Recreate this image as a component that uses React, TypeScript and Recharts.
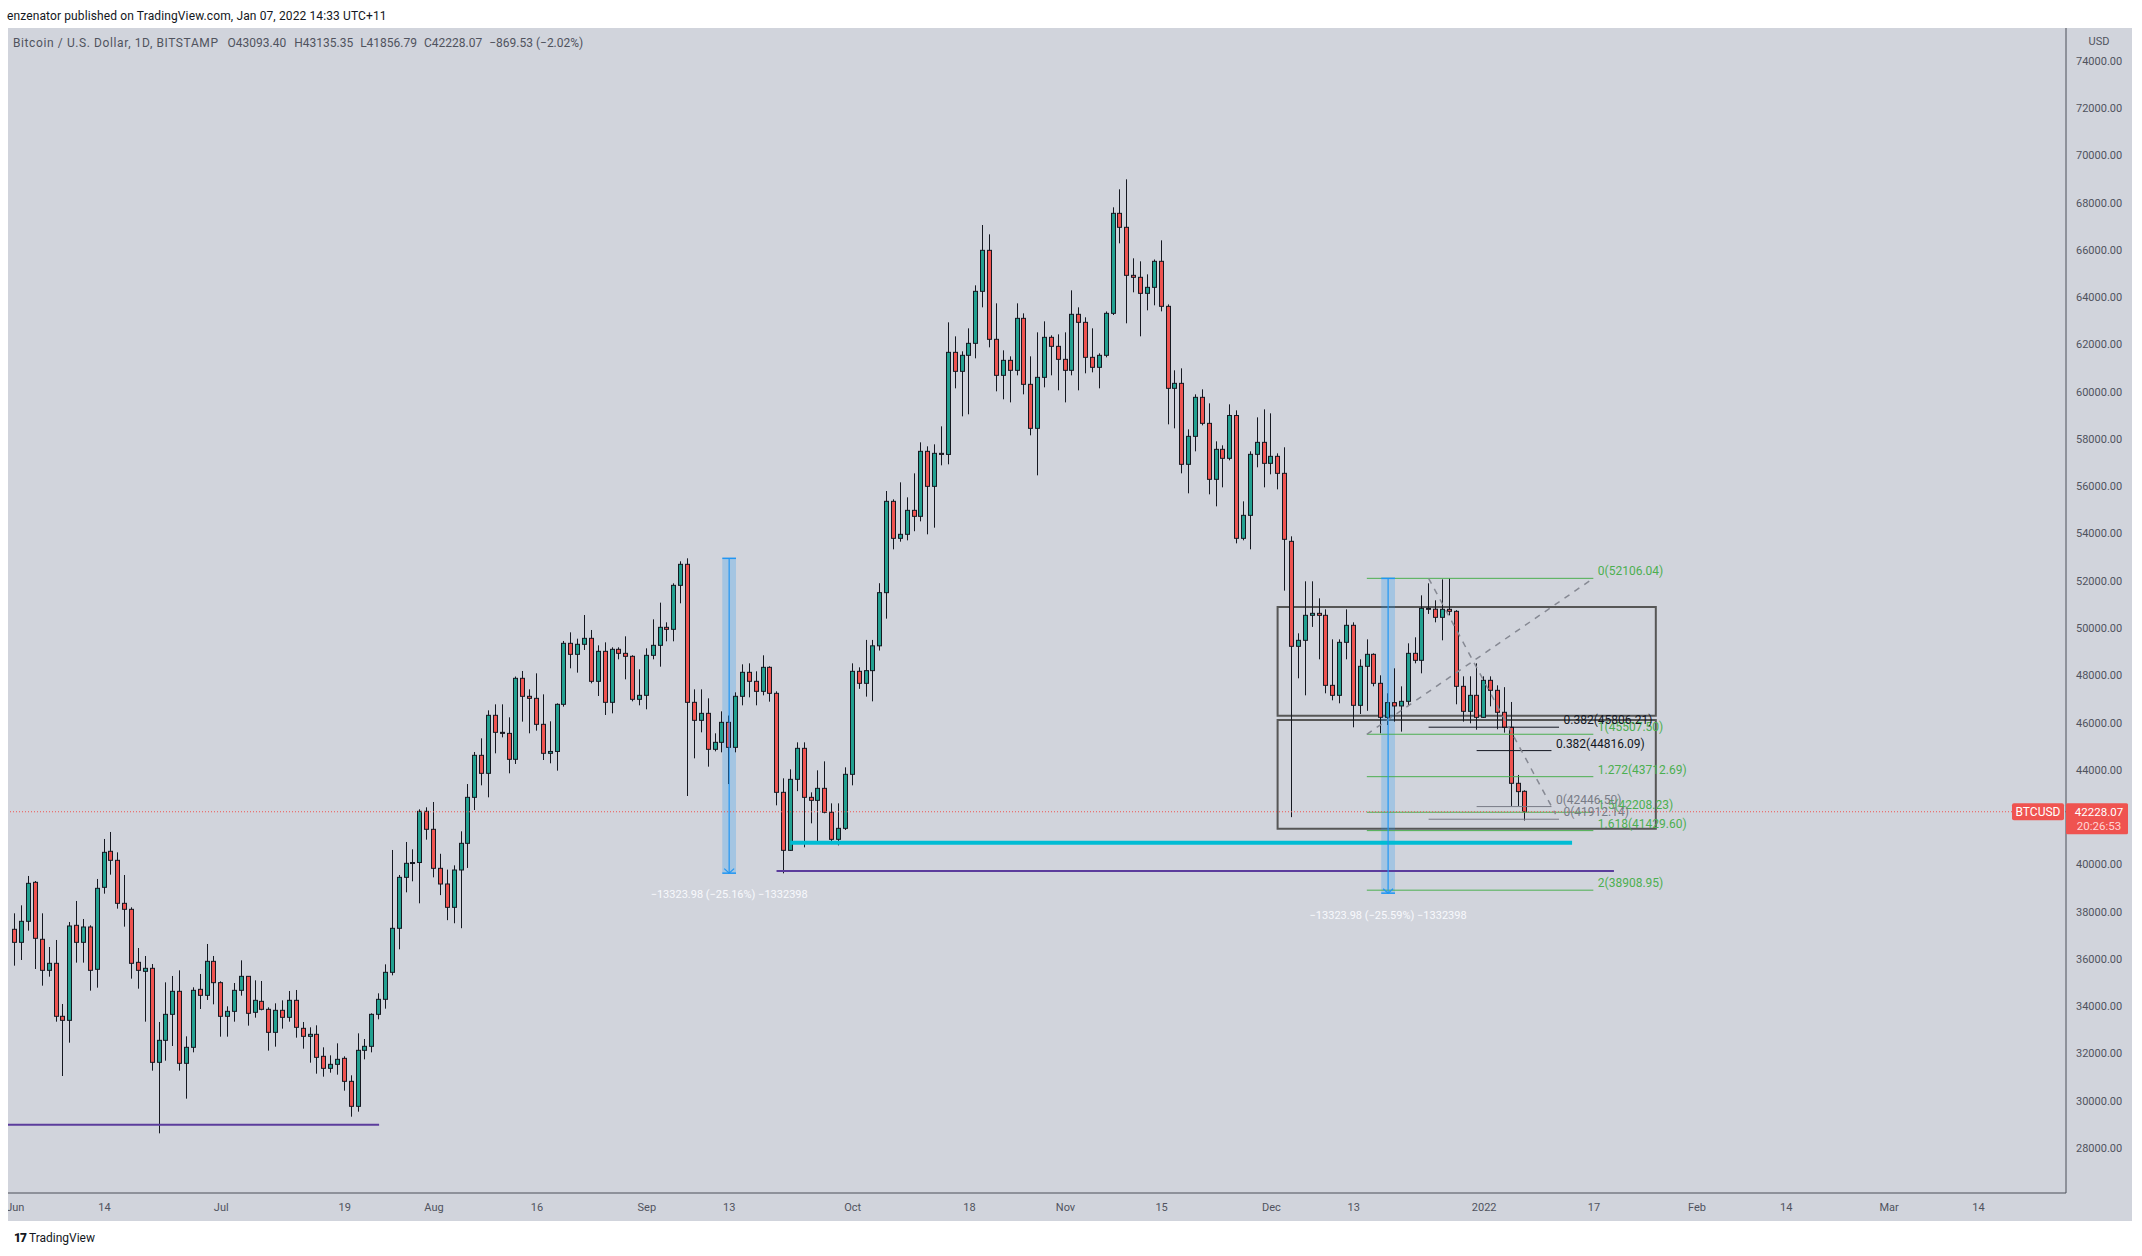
import React from 'react';
import { ComposedChart, Bar, XAxis, YAxis, ReferenceLine, ReferenceArea, ReferenceDot } from 'recharts';

const FONT = "Roboto, 'Liberation Sans', Arial, sans-serif";

// Day index 0 = Jun 1 2021 ... 220 = Jan 7 2022
const opens = [
  37253, 36702, 37591, 39242, 36830, 35517, 35814, 33571, 33401, 37422, 36702, 37351, 35560, 39030, 40554, 40173, 38353, 38099, 35856, 35475, 35602, 31624, 32555, 33655, 34629, 31582, 32259, 34713, 34459, 35898,
  34995, 33571, 33782, 34671, 35263, 33740, 34205, 33867, 32893, 33825, 33528, 34248, 33063, 32724, 32809, 31878, 31370, 31539, 31793, 30820, 29762, 32132, 32301, 33655, 34290, 35433, 37295, 39453, 40046, 40080, 42246,
  41485, 39834, 39171, 38183, 39763, 40892, 42838, 44616, 43854, 46309, 45589, 45545, 44447, 47875, 47113, 47028, 45928, 44701, 44780, 46774, 49356, 48890, 49314, 49567, 47748, 49017, 46859, 49102, 48932, 48806, 46986,
  47155, 48848, 49271, 50033, 49948, 51810, 52699, 46859, 46097, 46393, 44870, 45166, 46012, 44954, 47113, 48129, 47748, 47324, 48340, 47240, 43050, 40595, 43600, 44912, 42838, 42711, 43219, 42204, 41061, 41526,
  43812, 48171, 47663, 48200, 49250, 51500, 55365, 53799, 53969, 54984, 54730, 57481, 55999, 57396, 57350, 61670, 60866, 61544, 62051, 64252, 65987, 62221, 60697, 61332, 60909, 63109, 60316, 58454, 60612, 62305, 61924,
  61374, 60909, 63279, 62940, 61459, 61036, 61544, 63321, 67553, 66961, 64929, 64845, 64167, 64421, 65522, 63617, 60147, 60358, 56931, 58115, 59766, 58665, 56296, 57565, 57185, 58997, 53799, 54772, 57354, 57861,
  56973, 57269, 56550, 53672, 49229, 49483, 50541, 50625, 50541, 47578, 47155, 49398, 50118, 46732, 48383, 48890, 47663, 46225, 46846, 46705, 46901, 48932, 48637, 50837, 50800, 50456, 50795, 50710, 47536, 46478, 47155,
  46224, 47790, 47367, 46437, 45802, 43432, 43093.4,
];
const highs = [
  37930, 38268, 39510, 39297, 37930, 36505, 36801, 34093, 37563, 38452, 37690, 37422, 39383, 41076, 41372, 40511, 39552, 38184, 36462, 36124, 35785, 33331, 35009, 35278, 35517, 32724, 34798, 35362, 36632, 36124,
  35052, 33994, 34981, 35940, 35263, 35094, 35066, 33951, 34121, 34248, 34643, 34685, 33331, 33105, 33190, 32259, 31920, 32428, 31878, 31074, 32851, 32611, 33697, 34544, 35771, 40610, 39552, 40949, 40638, 42331, 42416,
  42641, 40450, 39780, 39960, 41400, 43400, 44757, 45335, 46520, 46774, 46774, 46224, 47950, 48185, 47409, 48086, 47197, 46055, 46817, 49455, 49821, 49553, 50555, 49920, 49271, 49398, 49187, 49187, 49652, 48850, 48255,
  49144, 50372, 51077, 50245, 51895, 52826, 52953, 47409, 47409, 47028, 45547, 46478, 46300, 47282, 48467, 48510, 48171, 48848, 48383, 47325, 43643, 44023, 45166, 45166, 43050, 43981, 44362, 42584, 42584, 44108,
  48509, 48340, 49500, 49500, 51900, 55802, 55450, 56169, 55534, 56549, 57861, 57692, 57777, 58539, 62940, 62347, 61713, 62686, 64506, 67059, 66664, 63744, 61755, 61501, 63744, 63321, 61501, 62517, 62982, 62390, 62432,
  62517, 64294, 63575, 63152, 62686, 61628, 63400, 67807, 68569, 68992, 65649, 65522, 64971, 65600, 66410, 63700, 60909, 60993, 58411, 59893, 60105, 59512, 57904, 57735, 59470, 59216, 55365, 57481, 58919, 59258,
  59089, 57396, 57651, 53884, 49779, 51980, 51980, 51260, 50795, 49525, 49525, 50795, 50245, 48679, 49525, 48933, 48002, 47240, 48298, 47536, 49356, 49610, 51387, 51895, 51176, 52064, 52106, 50760, 47959, 47960, 48510,
  47959, 47959, 47578, 47500, 46874, 43785, 43135.35,
];
const lows = [
  35715, 35955, 37196, 35574, 34868, 35249, 33345, 31045, 32456, 35842, 35842, 34657, 34784, 38762, 39566, 38127, 37365, 35165, 34741, 33345, 31271, 28619, 31694, 32315, 31271, 30086, 32047, 33881, 34262, 34078,
  32710, 32710, 33345, 34445, 33176, 33514, 33825, 32118, 32287, 33049, 33345, 32668, 32202, 31610, 31144, 31017, 31186, 31102, 30425, 29324, 29536, 31751, 32047, 33444, 33895, 35306, 36406, 38818, 39284, 38353, 41047,
  39453, 38700, 37640, 37510, 37300, 39850, 42302, 43346, 42838, 44700, 45377, 43854, 44250, 46041, 45547, 45660, 44418, 44278, 43967, 46676, 48298, 48115, 49074, 47663, 47127, 46323, 46393, 48679, 47832, 46901, 46732,
  46563, 48679, 48368, 49441, 49441, 51049, 42895, 44489, 45589, 44136, 44785, 44743, 43400, 44743, 46732, 47070, 46732, 47155, 46887, 42500, 39622, 40570, 43100, 40722, 41738, 40976, 42162, 40976, 40807, 41456,
  43346, 47430, 47100, 46900, 49050, 50400, 53334, 53658, 53714, 54100, 54518, 53968, 54250, 56888, 56931, 60147, 58962, 59047, 61417, 63575, 61882, 60020, 59682, 59553, 60697, 59893, 58158, 56465, 60189, 60697, 60062,
  59553, 60697, 60062, 60782, 60824, 60147, 61459, 63250, 66283, 62898, 64210, 62348, 63448, 63660, 63405, 58623, 58454, 56550, 55703, 57481, 58581, 55661, 55153, 55957, 57100, 53587, 53714, 53334, 56804, 55957,
  56507, 55872, 51585, 42000, 47875, 47155, 50050, 48679, 47240, 46944, 46817, 48679, 45802, 46366, 46500, 47536, 45548, 45900, 46042, 45619, 46700, 48510, 48086, 50600, 50245, 49483, 50541, 46775, 46042, 45971, 45700,
  46200, 46690, 45718, 45576, 42473, 42473, 41856.79,
];
const closes = [
  36702, 37591, 39199, 36872, 35517, 35814, 33571, 33401, 37394, 36702, 37351, 35517, 38988, 40511, 40173, 38353, 38099, 35814, 35517, 35602, 31624, 32555, 33655, 34629, 31582, 32259, 34671, 34459, 35898, 34995,
  33571, 33782, 34671, 35263, 33698, 34248, 33867, 32893, 33825, 33528, 34248, 33105, 32724, 32809, 31835, 31370, 31539, 31751, 30820, 29762, 32132, 32301, 33655, 34290, 35433, 37295, 39453, 40046, 40080, 42246, 41485,
  39834, 39171, 38183, 39763, 40892, 42838, 44616, 43854, 46309, 45589, 45545, 44447, 47875, 47113, 47028, 45928, 44701, 44780, 46774, 49356, 48890, 49314, 49567, 47748, 49017, 46859, 49102, 48932, 48806, 46986, 47155,
  48848, 49271, 50033, 49948, 51810, 52699, 46859, 46097, 46393, 44870, 45166, 46012, 44954, 47113, 48129, 47748, 47324, 48340, 47240, 43050, 40595, 43600, 44912, 42838, 42711, 43219, 42204, 41061, 41526, 43812,
  48171, 47663, 48200, 49250, 51500, 55365, 53799, 53969, 54984, 54730, 57481, 55999, 57396, 57350, 61670, 60866, 61544, 62051, 64252, 65987, 62221, 60697, 61332, 60909, 63109, 60316, 58454, 60612, 62305, 61924, 61374,
  60909, 63279, 62940, 61459, 61036, 61544, 63321, 67553, 66961, 64929, 64845, 64167, 64421, 65522, 63617, 60147, 60358, 56931, 58115, 59766, 58665, 56296, 57565, 57185, 58997, 53799, 54772, 57354, 57861, 56973,
  57269, 56550, 53757, 49229, 49483, 50541, 50625, 50541, 47578, 47155, 49398, 50118, 46732, 48383, 48890, 47663, 46225, 46846, 46705, 46901, 48932, 48637, 50837, 50800, 50456, 50795, 50710, 47536, 46478, 47155, 46224,
  47790, 47367, 46437, 45802, 43432, 43080, 42228.07,
];

const xTickDays = [0, 13, 30, 48, 61, 76, 92, 104, 122, 139, 153, 167, 183, 195, 214, 230, 245, 258, 273, 286];
const xTickLabels = ['Jun', '14', 'Jul', '19', 'Aug', '16', 'Sep', '13', 'Oct', '18', 'Nov', '15', 'Dec', '13', '2022', '17', 'Feb', '14', 'Mar', '14'];
// 42000 is hidden behind the last-price badge in the reference
const yTicks = [28000, 30000, 32000, 34000, 36000, 38000, 40000, 44000, 46000, 48000, 50000, 52000, 54000, 56000, 58000, 60000, 62000, 64000, 66000, 68000, 70000, 72000, 74000];

const X_DOMAIN: [number, number] = [-1.064, 298.76];
const Y_DOMAIN: [number, number] = [26094, 75396];
const LAST_PRICE = 42228.07;

// drawings (data coordinates: day index, price)
const hLines = [
  { from: -1.064, to: 53.0, level: 28984, color: '#5b3c9c', width: 2 },
  { from: 110.9, to: 232.9, level: 39721, color: '#5b3c9c', width: 2 },
  { from: 112.9, to: 226.8, level: 40920, color: '#00bcd4', width: 4 },
];
const boxes = [
  { from: 183.9, to: 239.0, low: 46293, high: 50893 },
  { from: 183.9, to: 239.0, low: 41511, high: 46111 },
];
const ranges = [
  { from: 103, center: 104, to: 105, top: 52953, bottom: 39629.02, labelLevel: 38749, text: '\u221213323.98 (\u221225.16%) \u22121332398' },
  { from: 199, center: 200, to: 201, top: 52106.04, bottom: 38782.06, labelLevel: 37860, text: '\u221213323.98 (\u221225.59%) \u22121332398' },
];
const fibGreenFrom = 196.9;
const fibGreenTo = 229.9;
const fibGreenLevels = [52106.04, 45507.5, 43712.69, 42208.23, 41429.6, 38908.95];
const fibGreenTexts = ['0(52106.04)', '1(45507.50)', '1.272(43712.69)', '1.5(42208.23)', '1.618(41429.60)', '2(38908.95)'];
const fibOther = [
  { from: 205.9, to: 224.9, level: 45806.21, text: '0.382(45806.21)', color: '#131722' },
  { from: 212.9, to: 223.8, level: 44816.09, text: '0.382(44816.09)', color: '#131722' },
  { from: 212.9, to: 223.8, level: 42446.5, text: '0(42446.50)', color: '#787b86' },
  { from: 205.9, to: 224.9, level: 41912.14, text: '0(41912.14)', color: '#787b86' },
];
const dashedLines = [
  { x1: 196.9, y1: 45507.5, x2: 229.9, y2: 52106.04 },
  { x1: 205.9, y1: 52106.04, x2: 224.4, y2: 42130 },
];

const UP = '#22a090';
const DOWN = '#ef5350';
const EDGE = '#151821';

const Candle = (p: any) => {
  const { x, y, width, height, payload } = p;
  if (x == null || y == null || !payload) return null;
  const { o, h, l, c } = payload;
  const top = Math.min(y, y + height);
  const hh = Math.abs(height);
  const k = h - l > 0 ? hh / (h - l) : 0;
  const yv = (v: number) => top + (h - v) * k;
  const cx = x + width / 2;
  const a = Math.round(cx - 2.5);
  const bt = yv(Math.max(o, c));
  const bb = yv(Math.min(o, c));
  return (
    <g>
      <line x1={a + 2.5} x2={a + 2.5} y1={top} y2={top + hh} stroke={EDGE} strokeWidth={1} />
      <rect x={a + 0.5} y={bt} width={4} height={Math.max(bb - bt, 1)} fill={c >= o ? UP : DOWN} stroke={EDGE} strokeWidth={1} />
    </g>
  );
};

const textAt = (text: string, color: string, anchor: 'start' | 'middle' | 'end', dx: number, dy: number, size = 12) =>
  (props: any) => {
    const vb = props.viewBox || {};
    const cx = (vb.x || 0) + (vb.width || 0) / 2;
    const cy = (vb.y || 0) + (vb.height || 0) / 2;
    return (
      <text x={cx + dx} y={cy + dy} fill={color} fontSize={size} fontFamily={FONT} textAnchor={anchor}>
        {text}
      </text>
    );
  };

const priceBadge = (props: any) => {
  const vb = props.viewBox || {};
  const cx = (vb.x || 0) + (vb.width || 0) / 2;
  const cy = (vb.y || 0) + (vb.height || 0) / 2;
  return (
    <g fontFamily={FONT}>
      <rect x={cx - 54} y={cy - 8.5} width={52} height={17} rx={2} fill={DOWN} />
      <text x={cx - 28} y={cy + 4.3} fill="#ffffff" fontSize={12} textAnchor="middle">BTCUSD</text>
      <rect x={cx} y={cy - 8.5} width={62} height={31} rx={1.5} fill={DOWN} />
      <text x={cx + 33} y={cy + 4.2} fill="#ffffff" fontSize={11.5} textAnchor="middle">{LAST_PRICE.toFixed(2)}</text>
      <text x={cx + 33} y={cy + 18.6} fill="#ffd6d6" fontSize={11.5} textAnchor="middle">20:26:53</text>
    </g>
  );
};

export default function App() {
  const data = closes.map((c, i) => ({ d: i, o: opens[i], h: highs[i], l: lows[i], c, range: [lows[i], highs[i]] }));
  const tickFmt = (v: number) => {
    const idx = xTickDays.indexOf(v);
    return idx >= 0 ? xTickLabels[idx] : '';
  };
  return (
    <div style={{ position: 'absolute', left: 0, top: 0, width: 2142, height: 1256, background: '#ffffff', fontFamily: FONT }}>
      <div style={{ position: 'absolute', left: 7, top: 8, fontSize: 12, lineHeight: '16px', letterSpacing: 0.12, color: '#131722', whiteSpace: 'nowrap' }}>
        enzenator published on TradingView.com, Jan 07, 2022 14:33 UTC+11
      </div>
      <div style={{ position: 'absolute', left: 8, top: 28, width: 2124, height: 1193, background: '#d1d4dc' }}>
        <ComposedChart width={2124} height={1193} data={data} margin={{ top: 0, right: 0, bottom: 0, left: 0 }}>
          <XAxis
            type="number"
            dataKey="d"
            domain={X_DOMAIN}
            allowDataOverflow
            ticks={xTickDays}
            interval={0}
            tickFormatter={tickFmt}
            tick={{ fill: '#50535e', fontSize: 11, fontFamily: FONT }}
            axisLine={{ stroke: '#4a4e59', strokeWidth: 1 }}
            tickLine={false}
            tickSize={0}
            tickMargin={10}
            height={28}
          />
          <YAxis
            type="number"
            orientation="right"
            domain={Y_DOMAIN}
            allowDataOverflow
            ticks={yTicks}
            interval={0}
            tickFormatter={(v: number) => v.toFixed(2)}
            tick={{ fill: '#50535e', fontSize: 11, fontFamily: FONT }}
            axisLine={{ stroke: '#4a4e59', strokeWidth: 1 }}
            tickLine={false}
            tickSize={0}
            tickMargin={10}
            width={66}
          />
          <Bar dataKey="range" barSize={4} shape={Candle} isAnimationActive={false} />

          {boxes.map((b, i) => (
            <ReferenceArea key={'box' + i} x1={b.from} x2={b.to} y1={b.low} y2={b.high} fill="none" fillOpacity={0} stroke="#565656" strokeWidth={2} ifOverflow="visible" />
          ))}

          {hLines.map((h, i) => (
            <ReferenceLine key={'hl' + i} segment={[{ x: h.from, y: h.level }, { x: h.to, y: h.level }]} stroke={h.color} strokeWidth={h.width} ifOverflow="visible" />
          ))}

          {fibGreenLevels.map((lv, i) => (
            <ReferenceLine key={'fg' + i} segment={[{ x: fibGreenFrom, y: lv }, { x: fibGreenTo, y: lv }]} stroke="#4caf50" strokeWidth={1} ifOverflow="visible" />
          ))}
          {fibOther.map((f, i) => (
            <ReferenceLine key={'fo' + i} segment={[{ x: f.from, y: f.level }, { x: f.to, y: f.level }]} stroke={f.color} strokeWidth={1} ifOverflow="visible" />
          ))}
          {dashedLines.map((s, i) => (
            <ReferenceLine key={'ds' + i} segment={[{ x: s.x1, y: s.y1 }, { x: s.x2, y: s.y2 }]} stroke="#868993" strokeWidth={1.5} strokeDasharray="6 6" ifOverflow="visible" />
          ))}

          {ranges.map((r, i) => (
            <ReferenceArea key={'ra' + i} x1={r.from} x2={r.to} y1={r.bottom} y2={r.top} fill="#2196f3" fillOpacity={0.25} stroke="none" ifOverflow="visible" />
          ))}
          {ranges.map((r, i) => (
            <ReferenceLine key={'rt' + i} segment={[{ x: r.from, y: r.top }, { x: r.to, y: r.top }]} stroke="#2196f3" strokeWidth={1.5} ifOverflow="visible" />
          ))}
          {ranges.map((r, i) => (
            <ReferenceLine key={'rb' + i} segment={[{ x: r.from, y: r.bottom }, { x: r.to, y: r.bottom }]} stroke="#2196f3" strokeWidth={1.5} ifOverflow="visible" />
          ))}
          {ranges.map((r, i) => (
            <ReferenceLine key={'rv' + i} segment={[{ x: r.center, y: r.top }, { x: r.center, y: r.bottom }]} stroke="#2196f3" strokeWidth={1.2} ifOverflow="visible" />
          ))}
          {ranges.map((r, i) => (
            <ReferenceLine key={'ral' + i} segment={[{ x: r.center - 0.72, y: r.bottom + 190 }, { x: r.center, y: r.bottom }]} stroke="#2196f3" strokeWidth={1.2} ifOverflow="visible" />
          ))}
          {ranges.map((r, i) => (
            <ReferenceLine key={'rar' + i} segment={[{ x: r.center + 0.72, y: r.bottom + 190 }, { x: r.center, y: r.bottom }]} stroke="#2196f3" strokeWidth={1.2} ifOverflow="visible" />
          ))}

          <ReferenceLine y={LAST_PRICE} stroke={DOWN} strokeWidth={1} strokeDasharray="1 2" ifOverflow="visible" />

          {fibGreenLevels.map((lv, i) => (
            <ReferenceDot key={'fgl' + i} x={fibGreenTo} y={lv} r={0} fill="none" stroke="none" ifOverflow="visible"
              label={{ content: textAt(fibGreenTexts[i], '#4caf50', 'start', 4.5, -3) }} />
          ))}
          {fibOther.map((f, i) => (
            <ReferenceDot key={'fol' + i} x={f.to} y={f.level} r={0} fill="none" stroke="none" ifOverflow="visible"
              label={{ content: textAt(f.text, f.color, 'start', 4.5, -3) }} />
          ))}
          {ranges.map((r, i) => (
            <ReferenceDot key={'rl' + i} x={r.center} y={r.labelLevel} r={0} fill="none" stroke="none" ifOverflow="visible"
              label={{ content: textAt(r.text, '#f8f9fd', 'middle', 0, 4, 11) }} />
          ))}
          <ReferenceDot x={X_DOMAIN[1]} y={LAST_PRICE} r={0} fill="none" stroke="none" ifOverflow="visible" label={{ content: priceBadge }} />
        </ComposedChart>
        <div style={{ position: 'absolute', left: 5, top: 6.7, fontSize: 12, lineHeight: '16px', color: '#50535e', whiteSpace: 'nowrap' }}>
          <span style={{ letterSpacing: 0.6 }}>Bitcoin / U.S. Dollar, 1D, BITSTAMP</span>
          <span style={{ marginLeft: 9 }}>O43093.40</span>
          <span style={{ marginLeft: 8 }}>H43135.35</span>
          <span style={{ marginLeft: 7 }}>L41856.79</span>
          <span style={{ marginLeft: 7 }}>C42228.07</span>
          <span style={{ marginLeft: 7 }}>{'\u2212869.53 (\u22122.02%)'}</span>
        </div>
        <div style={{ position: 'absolute', left: 2058, top: 6.7, width: 66, textAlign: 'center', fontSize: 11, lineHeight: '14px', color: '#50535e' }}>USD</div>
      </div>
      <div style={{ position: 'absolute', left: 14, top: 1230, fontSize: 12, lineHeight: '16px', color: '#131722', whiteSpace: 'nowrap' }}>
        <span style={{ fontWeight: 900, letterSpacing: -1, marginRight: 3 }}>17</span>
        <span>TradingView</span>
      </div>
    </div>
  );
}
